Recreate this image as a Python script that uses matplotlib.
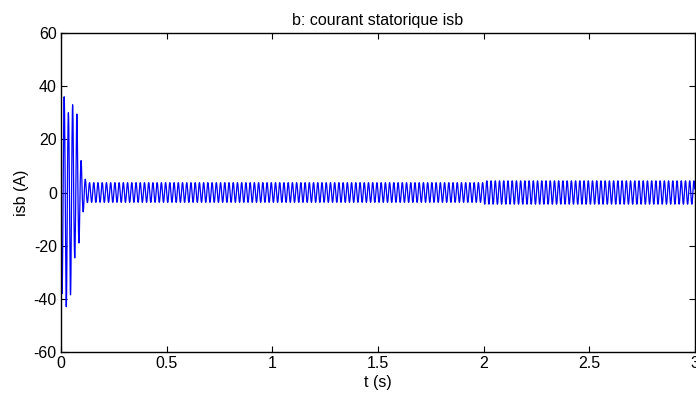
import numpy as np
import matplotlib.pyplot as plt

# half-cycle peaks of the start-up transient (A)
START_PEAKS = [-38, 36, -43, 30, -38.5, 33, -24.6, 29.5, -19, 12, -7.3, 5, -3.8]
STEADY_AMP = [3.7, 4.4]       # steady amplitude before / after the load step
STEADY_BREAK = 2.0            # s
FREQ = 50.0                   # Hz
T_END = 3.0

X_TICKS = [0, 0.5, 1, 1.5, 2, 2.5, 3]
X_TICK_LABELS = ["0", "0.5", "1", "1.5", "2", "2.5", "3"]
Y_TICKS = [-60, -40, -20, 0, 20, 40, 60]

half = 0.5 / FREQ
n_half = int(round(T_END / half))
peaks = []
for k in range(n_half):
    if k < len(START_PEAKS):
        peaks.append(START_PEAKS[k])
    else:
        amp = STEADY_AMP[0] if k * half < STEADY_BREAK else STEADY_AMP[1]
        peaks.append(amp if k % 2 else -amp)
peaks = np.array(peaks)

t = np.arange(0, T_END, 1e-3)
k_idx = np.minimum((t / half).astype(int), n_half - 1)
isb = peaks[k_idx] * np.abs(np.sin(np.pi * (t - k_idx * half) / half))

plt.rcParams["font.family"] = ["Liberation Sans", "DejaVu Sans"]
plt.rcParams["axes.unicode_minus"] = False

fig = plt.figure(figsize=(6.96, 3.98), dpi=100)
ax = fig.add_axes([61 / 696, 1 - 352 / 398, 634 / 696, 319 / 398])
ax.plot(t, isb, color="blue", linewidth=0.9)

ax.set_xlim(0, 3)
ax.set_ylim(-60, 60)
ax.set_xticks(X_TICKS)
ax.set_xticklabels(X_TICK_LABELS)
ax.set_yticks(Y_TICKS)
ax.tick_params(direction="in", length=4, width=0.8, top=True, right=True,
               labelsize=11.5, pad=3)
for s in ax.spines.values():
    s.set_linewidth(1.0)

ax.set_title("b: courant statorique isb", fontsize=11.5, pad=6)
ax.set_xlabel("t (s)", fontsize=11.5, labelpad=3)
ax.set_ylabel("isb (A)", fontsize=11.5, labelpad=3)

fig.savefig("out.png", dpi=100)
